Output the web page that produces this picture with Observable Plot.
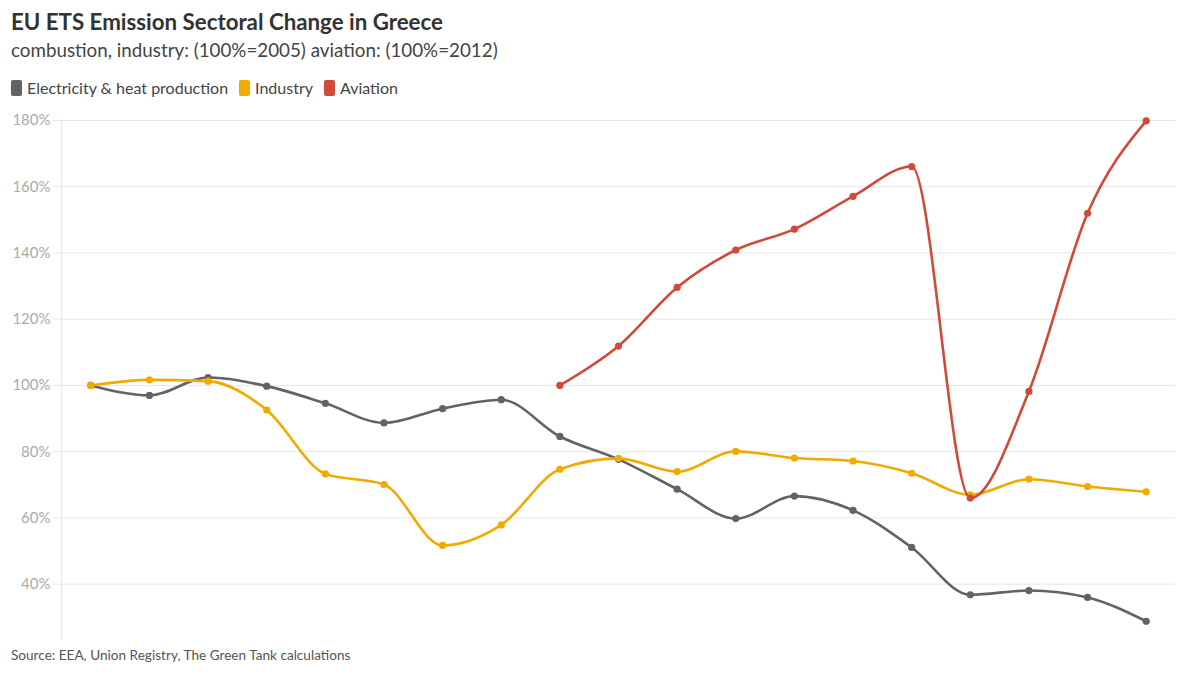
<!DOCTYPE html>
<html>
<head>
<meta charset="utf-8">
<script src="https://cdn.jsdelivr.net/npm/d3@7"></script>
<script src="https://cdn.jsdelivr.net/npm/@observablehq/plot@0.6"></script>
<style>
  html, body { margin: 0; padding: 0; background: #fff; width: 1200px; height: 675px; overflow: hidden; font-family: Lato, "Noto Sans", sans-serif; }
  #title { position: absolute; left: 11px; top: 8px; font-size: 22.3px; font-weight: 700; color: #333; white-space: nowrap; }
  #subtitle { position: absolute; left: 11px; top: 38px; font-size: 18.8px; color: #444; white-space: nowrap; }
  #legend { position: absolute; left: 11px; top: 78px; font-size: 16px; color: #444; display: flex; gap: 11px; white-space: nowrap; }
  #legend span.item { display: flex; align-items: center; }
  #legend span.sw { display: inline-block; width: 11px; height: 16px; border-radius: 2px; margin-right: 5px; }
  #chart { position: absolute; left: 0; top: 100px; }
  #source { position: absolute; left: 11px; top: 647px; font-size: 13.6px; color: #555; white-space: nowrap; }
</style>
</head>
<body>
<div id="title">EU ETS Emission Sectoral Change in Greece</div>
<div id="subtitle">combustion, industry: (100%=2005) aviation: (100%=2012)</div>
<div id="legend"></div>
<div id="chart"></div>
<div id="source">Source: EEA, Union Registry, The Green Tank calculations</div>
<script>
const years = [2005, 2006, 2007, 2008, 2009, 2010, 2011, 2012, 2013, 2014, 2015, 2016, 2017, 2018, 2019, 2020, 2021, 2022, 2023];
const electricity = [100, 97.0, 102.4, 99.8, 94.6, 88.7, 93.0, 95.7, 84.6, 77.7, 68.7, 59.8, 66.6, 62.3, 51.1, 36.8, 38.1, 36.0, 28.8];
const industry = [100, 101.7, 101.3, 92.6, 73.3, 70.1, 51.7, 57.9, 74.7, 78.0, 74.0, 80.1, 78.1, 77.2, 73.5, 67.0, 71.7, 69.5, 67.9];
const aviationYears = [2013, 2014, 2015, 2016, 2017, 2018, 2019, 2020, 2021, 2022, 2023];
const aviation = [100, 111.9, 129.6, 140.9, 147.2, 157.1, 166.1, 66.0, 98.2, 152.0, 179.9];
const seriesNames = ["Electricity & heat production", "Industry", "Aviation"];
const seriesColors = ["#636363", "#f0ab00", "#cf4a37"];
const yTicks = [40, 60, 80, 100, 120, 140, 160, 180];

const rows = [
  ...years.map((y, i) => ({year: y, value: electricity[i], series: seriesNames[0]})),
  ...years.map((y, i) => ({year: y, value: industry[i], series: seriesNames[1]})),
  ...aviationYears.map((y, i) => ({year: y, value: aviation[i], series: seriesNames[2]}))
];

const legend = document.getElementById("legend");
seriesNames.forEach((n, i) => {
  const it = document.createElement("span");
  it.className = "item";
  it.innerHTML = `<span class="sw" style="background:${seriesColors[i]}"></span>${n}`;
  legend.appendChild(it);
});

const marks = [
  Plot.gridY(yTicks, {stroke: "#e6e6e6", strokeOpacity: 1, x1: 2004.5 - 0.14, x2: 2023.5}),
  Plot.ruleX([2004.5], {stroke: "#e6e6e6", y1: 23, y2: 180}),
  Plot.axisY(yTicks, {tickSize: 0, tickPadding: 11, tickFormat: d => d + "%", fill: "#aaa", fontSize: 15, label: null})
];
seriesNames.forEach((n, i) => {
  const d = rows.filter(r => r.series === n);
  marks.push(Plot.line(d, {x: "year", y: "value", stroke: seriesColors[i], strokeWidth: 2.6, curve: "monotone-x"}));
  marks.push(Plot.dot(d, {x: "year", y: "value", fill: seriesColors[i], r: 3.6}));
});

const chart = Plot.plot({
  width: 1200,
  height: 545,
  marginTop: 20,
  marginBottom: 5,
  marginLeft: 61,
  marginRight: 25,
  style: {fontFamily: "Lato, 'Noto Sans', sans-serif", background: "#fff", overflow: "visible"},
  x: {domain: [2004.5, 2023.5], axis: null},
  y: {domain: [23, 180], label: null},
  marks
});
document.getElementById("chart").appendChild(chart);
</script>
</body>
</html>
